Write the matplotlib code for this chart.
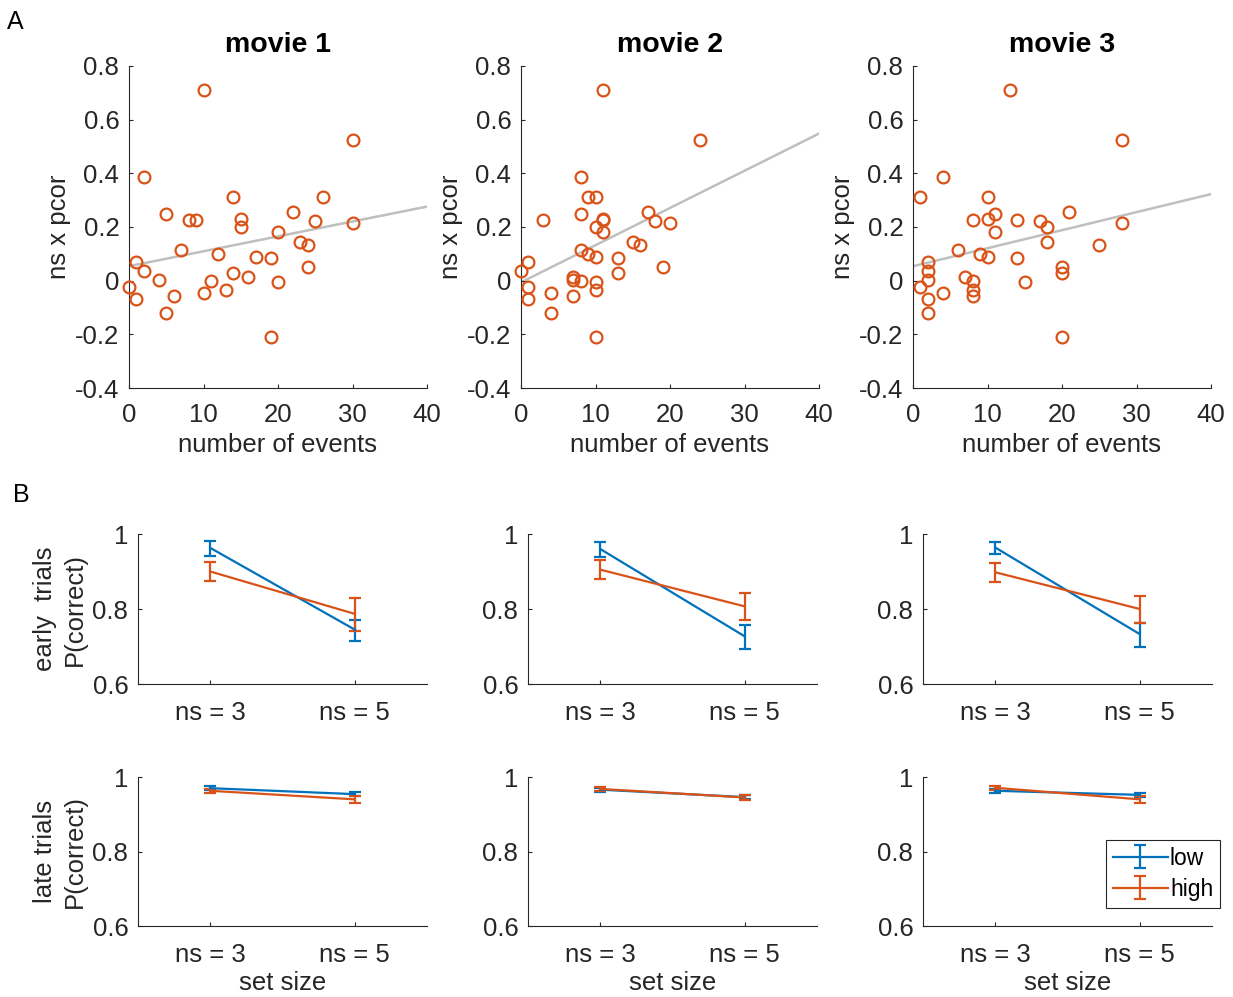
import numpy as np
import matplotlib as mpl
mpl.use('Agg')
import matplotlib.pyplot as pl
from matplotlib.ticker import FuncFormatter

pl.rcParams['font.family'] = ['Liberation Sans', 'DejaVu Sans']

# ---- data: panel A (same subject scores, events counted per movie)
nsPcor = [0.71, 0.524, 0.388, 0.313, 0.311, 0.256, 0.247, 0.229, 0.225, 0.225,
          0.221, 0.215, 0.199, 0.183, 0.144, 0.134, 0.116, 0.099, 0.09, 0.086,
          0.069, 0.05, 0.037, 0.028, 0.012, 0.003, 0.0, -0.004, -0.025, -0.033,
          -0.046, -0.056, -0.07, -0.12, -0.21]
events1 = [10, 30, 2, 14, 26, 22, 5, 15, 8, 9, 25, 30, 15, 20, 23, 24, 7, 12, 17, 19,
           1, 24, 2, 14, 16, 4, 11, 20, 0, 13, 10, 6, 1, 5, 19]
events2 = [11, 24, 8, 10, 9, 17, 8, 11, 3, 11, 18, 20, 10, 11, 15, 16, 8, 9, 10, 13,
           1, 19, 0, 13, 7, 7, 8, 10, 1, 10, 4, 7, 1, 4, 10]
events3 = [13, 28, 4, 10, 1, 21, 11, 10, 8, 14, 17, 28, 18, 11, 18, 25, 6, 9, 10, 14,
           2, 20, 2, 20, 7, 2, 8, 15, 1, 8, 4, 8, 2, 2, 20]
movies = ['movie 1', 'movie 2', 'movie 3']

# ---- data: panel B (mean, lower error, upper error) for ns = 3, ns = 5
setSizes = ['ns = 3', 'ns = 5']
earlyLow = [[0.963, 0.745], [0.960, 0.727], [0.964, 0.733]]
earlyLowLo = [[0.942, 0.716], [0.939, 0.693], [0.948, 0.698]]
earlyLowHi = [[0.982, 0.771], [0.979, 0.757], [0.980, 0.763]]
earlyHigh = [[0.900, 0.787], [0.905, 0.807], [0.898, 0.800]]
earlyHighLo = [[0.876, 0.742], [0.880, 0.770], [0.872, 0.763]]
earlyHighHi = [[0.925, 0.830], [0.930, 0.843], [0.924, 0.836]]
lateLow = [[0.970, 0.954], [0.966, 0.946], [0.963, 0.952]]
lateLowErr = [[0.005, 0.006], [0.005, 0.005], [0.006, 0.006]]
lateHigh = [[0.963, 0.940], [0.968, 0.945], [0.971, 0.940]]
lateHighErr = [[0.005, 0.009], [0.005, 0.006], [0.006, 0.009]]

blue = (0, 0.447, 0.741)
orange = (0.85, 0.325, 0.098)
axcol = (0.15, 0.15, 0.15)
fs = 18.5

W, H = 1233., 997.
f = pl.figure(figsize=(W/100, H/100), dpi=100)

def style(ax):
	for s in ['top', 'right']:
		ax.spines[s].set_visible(False)
	for s in ['left', 'bottom']:
		ax.spines[s].set_color(axcol)
		ax.spines[s].set_linewidth(0.8)
	ax.tick_params(direction='in', length=3, width=0.8, colors=axcol, labelsize=fs)
	ax.tick_params(axis='y', pad=7)
	ax.tick_params(axis='x', pad=11)
	ax.yaxis.set_major_formatter(FuncFormatter(lambda v, p: '%g' % round(v, 2)))

# panel A
topLefts = [129, 521, 913]
for i, xs in enumerate([events1, events2, events3]):
	ax = f.add_axes([topLefts[i]/W, 1-388/H, 298/W, 322/H])
	style(ax)
	ax.set_xlim(0, 40)
	ax.set_ylim(-0.4, 0.8)
	ax.set_xticks(np.arange(0, 41, 10))
	ax.set_yticks(np.arange(-0.4, 0.81, 0.2))
	b = np.polyfit(xs, nsPcor, 1)
	xl = np.array([0, 40])
	ax.plot(xl, np.polyval(b, xl), color=(0.75, 0.75, 0.75), lw=1.8, zorder=1)
	ax.plot(xs, nsPcor, 'o', mfc='none', mec=orange, mew=1.6, ms=8.5, clip_on=False, zorder=3)
	ax.set_title(movies[i], fontsize=20.5, fontweight='bold', color='k', pad=10)
	ax.set_xlabel('number of events', fontsize=fs, color=axcol, labelpad=4)
	ax.set_ylabel('ns x pcor', fontsize=fs, color=axcol, labelpad=3)

# panel B
botLefts = [138, 528, 923]
x = np.array([1, 2])
for row, (top, bot) in enumerate([(534, 684), (777, 926)]):
	for i in range(3):
		ax = f.add_axes([botLefts[i]/W, 1-bot/H, 289/W, (bot-top)/H])
		style(ax)
		ax.set_xlim(0.5, 2.5)
		ax.set_ylim(0.6, 1)
		ax.set_xticks(x)
		ax.set_xticklabels(setSizes)
		ax.set_yticks([0.6, 0.8, 1])
		ax.tick_params(axis='x', pad=12)
		if row == 0:
			lo = np.array(earlyLow[i]); hi = np.array(earlyHigh[i])
			eLo = [lo - np.array(earlyLowLo[i]), np.array(earlyLowHi[i]) - lo]
			eHi = [hi - np.array(earlyHighLo[i]), np.array(earlyHighHi[i]) - hi]
		else:
			lo = np.array(lateLow[i]); hi = np.array(lateHigh[i])
			eLo = lateLowErr[i]
			eHi = lateHighErr[i]
		h1 = ax.errorbar(x, lo, yerr=eLo, color=blue, lw=1.6, capsize=4.5, capthick=1.6, label='low')
		h2 = ax.errorbar(x, hi, yerr=eHi, color=orange, lw=1.6, capsize=4.5, capthick=1.6, label='high')
		if i == 0:
			if row == 0:
				ax.set_ylabel('early  trials\nP(correct)', fontsize=fs, color=axcol, labelpad=4, linespacing=1.3)
			else:
				ax.set_ylabel('late trials\nP(correct)', fontsize=fs, color=axcol, labelpad=4, linespacing=1.3)
		if row == 1:
			ax.set_xlabel('set size', fontsize=fs, color=axcol, labelpad=3)
		if row == 1 and i == 2:
			leg = f.legend([h1, h2], ['low', 'high'], loc='upper right',
				bbox_to_anchor=(1220/W, 1-840/H), fontsize=16.5, fancybox=False,
				edgecolor=axcol, framealpha=1, handlelength=2.4, handletextpad=0.1,
				borderpad=0.3, labelspacing=0.35, borderaxespad=0)
			leg.get_frame().set_linewidth(0.8)

f.text(7/W, 1-22/H, 'A', fontsize=18, va='center', ha='left')
f.text(13/W, 1-495/H, 'B', fontsize=18, va='center', ha='left')

f.savefig('out.png', dpi=100)
